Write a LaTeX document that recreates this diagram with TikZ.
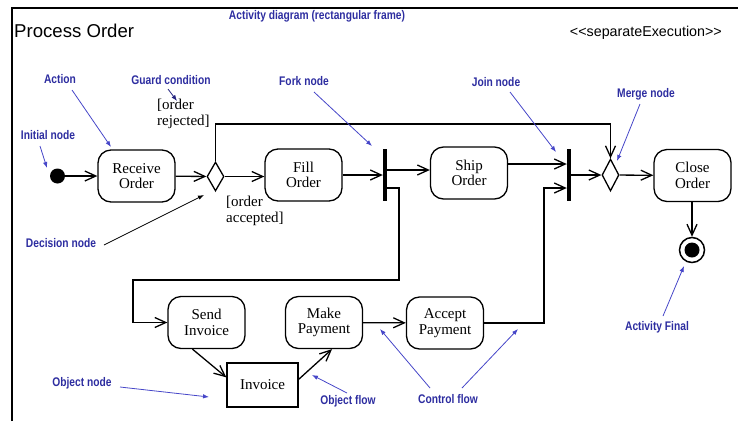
\documentclass[tikz,border=0pt]{standalone}
\usepackage{fontspec}
\usepackage{graphicx}
\setmainfont{Liberation Serif}
\newfontfamily\sansf{Liberation Sans}
\usetikzlibrary{arrows.meta,shapes.geometric}
\definecolor{annot}{RGB}{45,45,160}
\definecolor{annline}{RGB}{70,70,200}
% condensed bold sans for the explanatory labels
\newcommand{\annlabel}[1]{\scalebox{0.82}[1]{\sansf\bfseries\fontsize{12.5}{14}\selectfont #1}}
\begin{document}
\begin{tikzpicture}[x=1pt,y=-1pt,
  action/.style={draw,line width=1.3pt,rounded corners=13pt,minimum width=77pt,
    minimum height=52pt,inner sep=0pt,align=center,font=\fontsize{15}{15.5}\selectfont},
  objnode/.style={draw,line width=1.3pt,minimum width=71pt,minimum height=44pt,
    inner sep=0pt,font=\fontsize{15}{15.5}\selectfont},
  choice/.style={draw,shape=diamond,line width=1.3pt,inner sep=0pt,minimum width=17pt},
  bar/.style={fill=black,minimum width=4pt,minimum height=52pt,inner sep=0pt},
  flow/.style={line width=1.3pt,-{Straight Barb[length=11pt,width=10pt]}},
  guard/.style={align=left,inner sep=0pt,anchor=west,font=\fontsize{15}{16}\selectfont},
  lab/.style={text=annot,inner sep=1pt},
  annarrow/.style={draw=annline,line width=0.8pt,-{Latex[length=6pt,width=4.5pt]}},
  annblack/.style={draw=black,line width=0.8pt,-{Latex[length=6pt,width=4.5pt]}}
]
\useasboundingbox (0,0) rectangle (738,421);

% frame of the activity
\draw[line width=1.8pt] (12,421) -- (12,8) -- (738,8);
\node[anchor=west,inner sep=0pt,font=\sansf\fontsize{18.6}{20}\selectfont] (title) at (14,31) {Process Order};
\node[anchor=east,inner sep=0pt,font=\sansf\fontsize{14.3}{16}\selectfont] (stereo) at (722,33)
  {\textless\textless separateExecution\textgreater\textgreater};

% activity nodes
\node[circle,fill=black,minimum size=15pt,inner sep=0pt] (init) at (57.5,176) {};
\node[action] (recv) at (136.5,176) {Receive\\Order};
\node[choice,minimum height=29pt] (dec) at (215.5,176.5) {};
\node[action] (fill) at (303.5,175) {Fill\\Order};
\node[bar] (fork) at (385,175) {};
\node[action] (ship) at (469,173) {Ship\\Order};
\node[bar] (join) at (569,175) {};
\node[choice,minimum height=32pt] (merge) at (610.5,175) {};
\node[action] (close) at (692.5,175.5) {Close\\Order};
\node[circle,draw,line width=1.5pt,minimum size=25pt,inner sep=0pt] (final) at (692,250) {};
\fill (final.center) circle (7.5pt);
\node[action] (send) at (206.5,322.5) {Send\\Invoice};
\node[action] (make) at (324,322.5) {Make\\Payment};
\node[action] (accept) at (445,323) {Accept\\Payment};
\node[objnode] (inv) at (262.5,385) {Invoice};

% guards
\node[guard] (grej) at (157,113.5) {[order\\rejected]};
\node[guard] (gacc) at (226,211) {[order\\accepted]};

% flows
\coordinate (rj) at (215.5,124);
\coordinate (f1) at (399,280);
\coordinate (f2) at (133,280);
\coordinate (j1) at (544,188);
\draw[flow] (init) -- (recv);
\draw[flow] (recv) -- (dec);
\draw[flow] (dec.east) -- (dec.east -| fill.west);
\draw[flow] (dec.north) -- (rj) -| (merge.north);
\draw[flow] (fill) -- (fork);
\draw[flow] ([yshift=5pt]fork.east) -- ([yshift=5pt]fork.east -| ship.west);
\draw[flow] ([yshift=-13pt]fork.east) -| (f1) -- (f2) |- (send.west);
\draw[flow] ([yshift=9pt]ship.east) -- ([yshift=9pt]ship.east -| join.west);
\draw[flow] (accept.east) -| (j1) -- (j1 -| join.west);
\draw[flow] (join) -- (merge);
\draw[flow] (merge) -- (close);
\draw[flow] (final |- close.south) -- (final);
\draw[flow] ([xshift=-14pt]send.south) -- ([yshift=-15pt]inv.north west);
\draw[flow] ([yshift=-17pt]inv.north east) -- ([xshift=8pt]make.south);
\draw[flow] (make) -- (accept);

% explanatory labels
\node[lab] (lAct) at (317,16) {\annlabel{Activity diagram (rectangular frame)}};
\node[lab] (lAction) at (60,79) {\annlabel{Action}};
\node[lab] (lGuard) at (171,80) {\annlabel{Guard condition}};
\node[lab] (lFork) at (304,81) {\annlabel{Fork node}};
\node[lab] (lJoin) at (496,82) {\annlabel{Join node}};
\node[lab] (lMerge) at (646,94) {\annlabel{Merge node}};
\node[lab] (lInit) at (48,135) {\annlabel{Initial node}};
\node[lab] (lDec) at (61,243) {\annlabel{Decision node}};
\node[lab] (lFinal) at (657,327) {\annlabel{Activity Final}};
\node[lab] (lObj) at (82,383) {\annlabel{Object node}};
\node[lab] (lOflow) at (348,401) {\annlabel{Object flow}};
\node[lab] (lCflow) at (448,399) {\annlabel{Control flow}};

% label pointers
\coordinate (sAction) at (72,90);   \coordinate (tAction) at (111,147);
\coordinate (sInit) at (40,146);    \coordinate (tInit) at (47,168);
\coordinate (sGuard) at (168,89);   \coordinate (tGuard) at (177,101);
\coordinate (sFork) at (314,92);    \coordinate (tFork) at (372,146);
\coordinate (sJoin) at (510,92);    \coordinate (tJoin) at (556,152);
\coordinate (sMerge) at (640,104);  \coordinate (tMerge) at (617,161);
\coordinate (sDec) at (104,245);    \coordinate (tDec) at (204,195);
\coordinate (sFinal) at (663,316);  \coordinate (tFinal) at (684,266);
\coordinate (sObj) at (120,387);    \coordinate (tObj) at (209,397);
\coordinate (sOflow) at (347,393);  \coordinate (tOflow) at (312,375);
\coordinate (sCf1) at (430,388);    \coordinate (tCf1) at (380,329);
\coordinate (sCf2) at (462,388);    \coordinate (tCf2) at (518,329);
\draw[annarrow] (sAction) -- (tAction);
\draw[annarrow] (sInit) -- (tInit);
\draw[annarrow,draw=annot!80!black] (sGuard) -- (tGuard);
\draw[annarrow] (sFork) -- (tFork);
\draw[annarrow] (sJoin) -- (tJoin);
\draw[annarrow] (sMerge) -- (tMerge);
\draw[annblack] (sDec) -- (tDec);
\draw[annarrow] (sFinal) -- (tFinal);
\draw[annarrow] (sObj) -- (tObj);
\draw[annarrow] (sOflow) -- (tOflow);
\draw[annarrow] (sCf1) -- (tCf1);
\draw[annarrow] (sCf2) -- (tCf2);
\end{tikzpicture}
\end{document}
